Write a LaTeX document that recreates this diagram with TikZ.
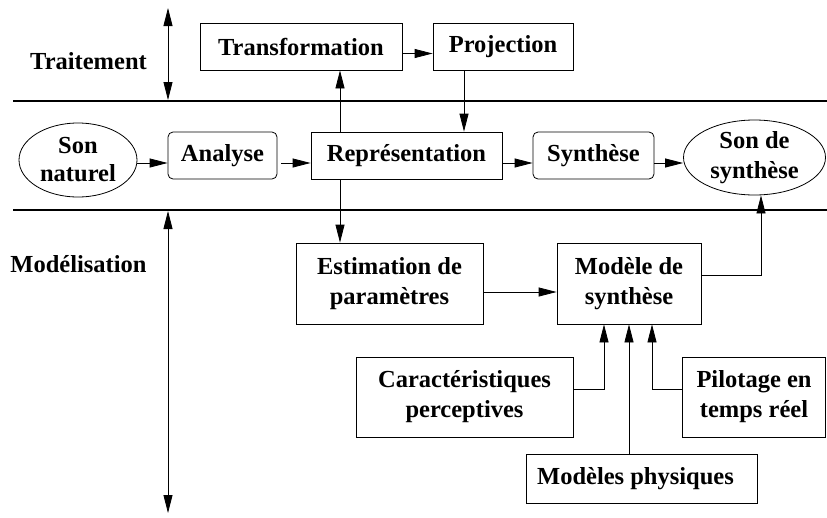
\documentclass[tikz,border=0pt]{standalone}
\usepackage{fontspec}
\setmainfont{Liberation Serif}
\usetikzlibrary{arrows.meta,shapes.geometric}
\tikzset{
  box/.style={draw, line width=.8pt, inner sep=0pt, align=center, minimum height=47pt},
  rbox/.style={box, rounded corners=5pt},
  ellip/.style={draw, ellipse, line width=.8pt, inner sep=0pt, align=center},
  arr/.style={line width=.8pt, -{Triangle[length=18pt,width=9pt]}},
  darr/.style={line width=.8pt, {Triangle[length=18pt,width=9pt]}-{Triangle[length=18pt,width=9pt]}},
  sep/.style={line width=2pt},
}
\begin{document}
\begin{tikzpicture}[x=1pt, y=-1pt, font=\fontsize{24.5}{30}\selectfont\bfseries]
	\useasboundingbox (0,0) rectangle (827,517);
	\draw[sep] (13,101) -- (827,101);
	\draw[sep] (13,210) -- (827,210);
	\draw[darr] (168,8)   -- (168,100);
	\draw[darr] (168,211) -- (168,513);
	\node (trait)   at (88.5,61) {Traitement};
	\node (modelis) at (78.5,264) {Modélisation};
	% boites
	\node[box, minimum width=202pt] (trans) at (301,46.5) {Transformation};
	\node[box, minimum width=140pt] (proj)  at (503,46.5) {Projection};
	\node[ellip, minimum width=118pt, minimum height=74pt, font=\fontsize{24.5}{28}\selectfont\bfseries] (sonnat) at (78,160) {Son\\naturel};
	\node[rbox, minimum width=109pt] (analyse) at (222.5,155.5) {Analyse};
	\node[box,  minimum width=191pt] (repr)    at (406.5,155.5) {Représentation};
	\node[rbox, minimum width=121pt] (synth)   at (593.5,155.5) {Synthèse};
	\node[ellip, minimum width=142pt, minimum height=75pt] (sonsyn) at (754.5,157.5) {Son de\\synthèse};
	\node[box, minimum width=187pt, minimum height=81pt] (estim)  at (389.5,283.5) {Estimation de\\paramètres};
	\node[box, minimum width=144pt, minimum height=81pt] (modele) at (629,283.5) {Modèle de\\synthèse};
	\node[box, minimum width=217pt, minimum height=80pt] (caract) at (464.5,397) {Caractéristiques\\perceptives};
	\node[box, minimum width=143pt, minimum height=80pt] (pilot)  at (754,397) {Pilotage en\\temps réel};
	\node[box, minimum width=231pt, minimum height=49pt] (physiq) at (641.5,478.5) {Modèles physiques\hspace*{12pt}};
	% fleches
	\coordinate (row) at (0,163);
	\coordinate (v1)  at (340,0);
	\coordinate (v2)  at (464,0);
	\draw[arr] (sonnat.east |- row) -- (analyse.west |- row);
	\draw[arr] ([xshift=4pt]analyse.east |- row) -- (repr.west |- row);
	\draw[arr] (repr.east |- row) -- (synth.west |- row);
	\draw[arr] (synth.east |- row) -- (sonsyn.west |- row);
	\draw[arr] (repr.north -| v1) -- (trans.south -| v1);
	\draw[arr] (repr.south -| v1) -- (estim.north -| v1);
	\draw[arr] (proj.south -| v2) -- (repr.north -| v2);
	\draw[arr] ([yshift=-7pt]trans.east) -- ([yshift=-7pt]proj.west);
	\draw[arr] ([yshift=-8.5pt]estim.east) -- ([yshift=-8.5pt]modele.west);
	\draw[arr] ([yshift=8.5pt]modele.east) -| ([xshift=6.5pt]sonsyn.south);
	\draw[arr] ([yshift=8pt]caract.east) -| ([xshift=-25pt]modele.south);
	\draw[arr] ([yshift=8pt]pilot.west) -| ([xshift=23pt]modele.south);
	\draw[arr] (physiq.north -| modele.south) -- (modele.south);
\end{tikzpicture}
\end{document}
